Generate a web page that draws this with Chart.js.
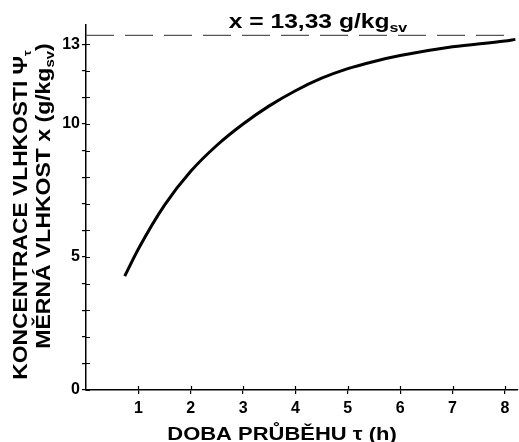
<!DOCTYPE html>
<html>
<head>
<meta charset="utf-8">
<script src="https://cdn.jsdelivr.net/npm/chart.js@4.4.1/dist/chart.umd.min.js"></script>
<style>
    html, body { margin: 0; padding: 0; background: #fff; }
    #wrap { width: 519px; height: 442px; }
</style>
</head>
<body>
<div id="wrap"><canvas id="dryChart" width="519" height="442"></canvas></div>
<script>
// doba průběhu (h) a měrná vlhkost (g/kg sv)
const times = [0.74, 1, 1.5, 2, 2.5, 3, 3.5, 4, 4.5, 5, 5.5, 6, 7, 8, 8.2];
const moisture = [4.28, 5.3, 6.95, 8.22, 9.2, 10.0, 10.68, 11.25, 11.72, 12.08, 12.35, 12.57, 12.9, 13.12, 13.18];

// nasycená hodnota x = 13,33 g/kg sv
const saturation = 13.33;
const saturationRange = [0, 8.15];

const xTicks = [1, 2, 3, 4, 5, 6, 7, 8];
const yTicks = [0, 1, 2, 3, 4, 5, 6, 7, 8, 9, 10, 11, 12, 13];
const yLabels = [0, 5, 10, 13];

const FONT = "'Liberation Sans', Arial, sans-serif";

// text s dolním indexem, vystředěný kolem (0,0), sx = vodorovné roztažení písma
function drawSubText(ctx, parts, sx) {
    ctx.scale(sx || 1, 1);
    let total = 0;
    parts.forEach(p => {
        ctx.font = `bold ${p.size}px ${FONT}`;
        p.w = ctx.measureText(p.t).width;
        total += p.w;
    });
    let x = -total / 2;
    parts.forEach(p => {
        ctx.font = `bold ${p.size}px ${FONT}`;
        ctx.fillText(p.t, x, p.dy || 0);
        x += p.w;
    });
}

const textPlugin = {
    id: 'texts',
    afterDraw(chart) {
        const ctx = chart.ctx;
        const xs = chart.scales.x;
        const ys = chart.scales.y;
        ctx.save();

        // vnitřní polovina značek na osách
        ctx.strokeStyle = '#000';
        ctx.lineWidth = 1.2;
        ctx.beginPath();
        xs.ticks.forEach(t => {
            const px = Math.round(xs.getPixelForValue(t.value)) + 0.5;
            ctx.moveTo(px, ys.bottom);
            ctx.lineTo(px, ys.bottom - 4);
        });
        ys.ticks.forEach(t => {
            const py = Math.round(ys.getPixelForValue(t.value)) + 0.5;
            ctx.moveTo(xs.left, py);
            ctx.lineTo(xs.left + 4, py);
        });
        ctx.stroke();

        ctx.fillStyle = '#000';
        ctx.textAlign = 'left';
        ctx.textBaseline = 'alphabetic';

        // popis nahoře
        ctx.save();
        ctx.translate(318, 28);
        drawSubText(ctx, [
            { t: 'x = 13,33 g/kg', size: 20 },
            { t: 'sv', size: 13, dy: 4 }
        ], 1.23);
        ctx.restore();

        // popis osy x
        ctx.save();
        ctx.translate(282, 440);
        drawSubText(ctx, [{ t: 'DOBA PRŮBĚHU τ (h)', size: 18 }], 1.22);
        ctx.restore();

        // popis osy y, dva řádky
        ctx.save();
        ctx.translate(27, 215);
        ctx.rotate(-Math.PI / 2);
        drawSubText(ctx, [
            { t: 'KONCENTRACE VLHKOSTI Ψ', size: 20 },
            { t: 'τ', size: 11, dy: 4 }
        ], 1.14);
        ctx.restore();

        ctx.save();
        ctx.translate(50, 196);
        ctx.rotate(-Math.PI / 2);
        drawSubText(ctx, [
            { t: 'MĚRNÁ VLHKOST x (g/kg', size: 20 },
            { t: 'sv', size: 13, dy: 4 },
            { t: ')', size: 20 }
        ], 1.15);
        ctx.restore();

        ctx.restore();
    }
};

const ctx = document.getElementById('dryChart').getContext('2d');

new Chart(ctx, {
    type: 'scatter',
    data: {
        datasets: [
            {
                label: 'x',
                data: times.map((t, i) => ({ x: t, y: moisture[i] })),
                showLine: true,
                borderColor: '#000',
                borderWidth: 3,
                pointRadius: 0,
                cubicInterpolationMode: 'monotone',
                fill: false
            },
            {
                label: 'nasycení',
                data: saturationRange.map(t => ({ x: t, y: saturation })),
                showLine: true,
                borderColor: '#555',
                borderWidth: 1.3,
                borderDash: [28, 11],
                pointRadius: 0,
                fill: false
            }
        ]
    },
    options: {
        responsive: false,
        animation: false,
        events: [],
        layout: { padding: { top: 25, right: 1, bottom: 0, left: 0 } },
        plugins: {
            legend: { display: false },
            tooltip: { enabled: false }
        },
        scales: {
            x: {
                type: 'linear',
                min: 0,
                max: 8.25,
                afterFit: (s) => { s.height = 52; },
                afterBuildTicks: (s) => { s.ticks = xTicks.map(v => ({ value: v })); },
                border: { display: true, color: '#000', width: 1.5 },
                grid: { drawOnChartArea: false, drawTicks: true, tickLength: 4, color: '#000', lineWidth: 1.2 },
                ticks: {
                    color: '#000',
                    padding: 5,
                    maxRotation: 0,
                    font: { family: FONT, size: 16, weight: 'bold' }
                },
                title: { display: false }
            },
            y: {
                type: 'linear',
                min: 0,
                max: 13.72,
                afterFit: (s) => { s.width = 86; },
                afterBuildTicks: (s) => { s.ticks = yTicks.map(v => ({ value: v })); },
                border: { display: true, color: '#000', width: 1.5 },
                grid: { drawOnChartArea: false, drawTicks: true, tickLength: 4, color: '#000', lineWidth: 1.2 },
                ticks: {
                    color: '#000',
                    padding: 2,
                    font: { family: FONT, size: 16, weight: 'bold' },
                    callback: (v) => yLabels.includes(v) ? String(v) : ''
                },
                title: { display: false }
            }
        }
    },
    plugins: [textPlugin]
});
</script>
</body>
</html>
